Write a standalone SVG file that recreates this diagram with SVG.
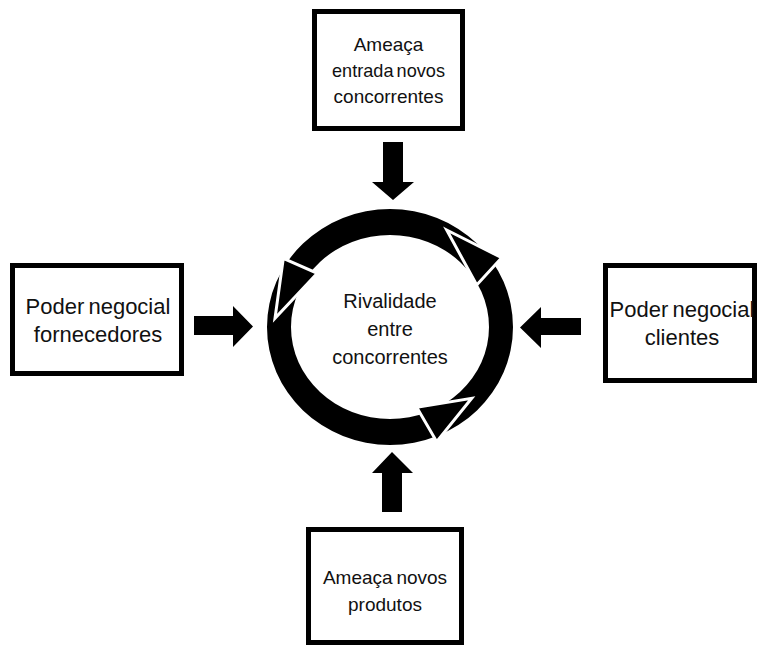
<svg xmlns="http://www.w3.org/2000/svg" width="759" height="645" viewBox="0 0 759 645">
  <style>
    .box { fill: #ffffff; stroke: #000000; stroke-width: 5; }
    .lbl { font-family: "Liberation Sans", Arial, sans-serif; font-size: 19px; fill: #111111; text-anchor: middle; }
    .big { font-size: 20px; }
    .side { font-size: 22px; }
    .blk { fill: #000000; stroke: none; }
    .head { fill: #000000; stroke: #ffffff; stroke-width: 3; stroke-linejoin: miter; }
  </style>
  <rect width="759" height="645" fill="#ffffff"/>

  <g id="node-entrada">
    <rect class="box" x="314.5" y="11.5" width="148" height="117"/>
    <text class="lbl" x="388.5" y="51">Ameaça</text>
    <text class="lbl" x="388.5" y="77" word-spacing="-2" textLength="113" lengthAdjust="spacingAndGlyphs">entrada novos</text>
    <text class="lbl" x="388.5" y="103">concorrentes</text>
  </g>

  <g id="node-fornecedores">
    <rect class="box" x="12.5" y="265.5" width="169" height="108"/>
    <text class="lbl side" x="98" y="314" word-spacing="-2">Poder negocial</text>
    <text class="lbl side" x="98" y="342">fornecedores</text>
  </g>

  <g id="node-clientes">
    <rect class="box" x="605.5" y="265.5" width="149" height="115"/>
    <text class="lbl side" x="682" y="317" word-spacing="-2">Poder negocial</text>
    <text class="lbl side" x="682" y="345">clientes</text>
  </g>

  <g id="node-produtos">
    <rect class="box" x="308.5" y="529.5" width="153" height="113"/>
    <text class="lbl" x="385" y="584" word-spacing="-1.5">Ameaça novos</text>
    <text class="lbl" x="385" y="611">produtos</text>
  </g>

  <g id="node-rivalidade">
    <path class="blk" fill-rule="evenodd" d="M267,327 A123,118 0 1,0 513,327 A123,118 0 1,0 267,327 Z M291,327 A99,92 0 1,0 489,327 A99,92 0 1,0 291,327 Z"/>
    <polygon class="head" points="283.3,258.3 317.3,273.3 275,318.3"/>
    <polygon class="head" points="446.7,230 501.7,257.7 476.7,285"/>
    <polygon class="head" points="416.7,407.3 436.7,441.7 471.7,398.3"/>
    <text class="lbl big" x="390" y="308">Rivalidade</text>
    <text class="lbl big" x="390" y="336">entre</text>
    <text class="lbl big" x="390" y="364">concorrentes</text>
  </g>

  <g id="connectors">
    <polygon class="blk" points="383,142 403,142 403,182 414,182 393,200 372,182 383,182"/>
    <polygon class="blk" points="194,316 233,316 233,306 253,326.5 233,347 233,335 194,335"/>
    <polygon class="blk" points="581,318 541,318 541,307 520,327.5 541,348 541,335 581,335"/>
    <polygon class="blk" points="382,512 382,473 372,473 392,452 413,473 402,473 402,512"/>
  </g>
</svg>
